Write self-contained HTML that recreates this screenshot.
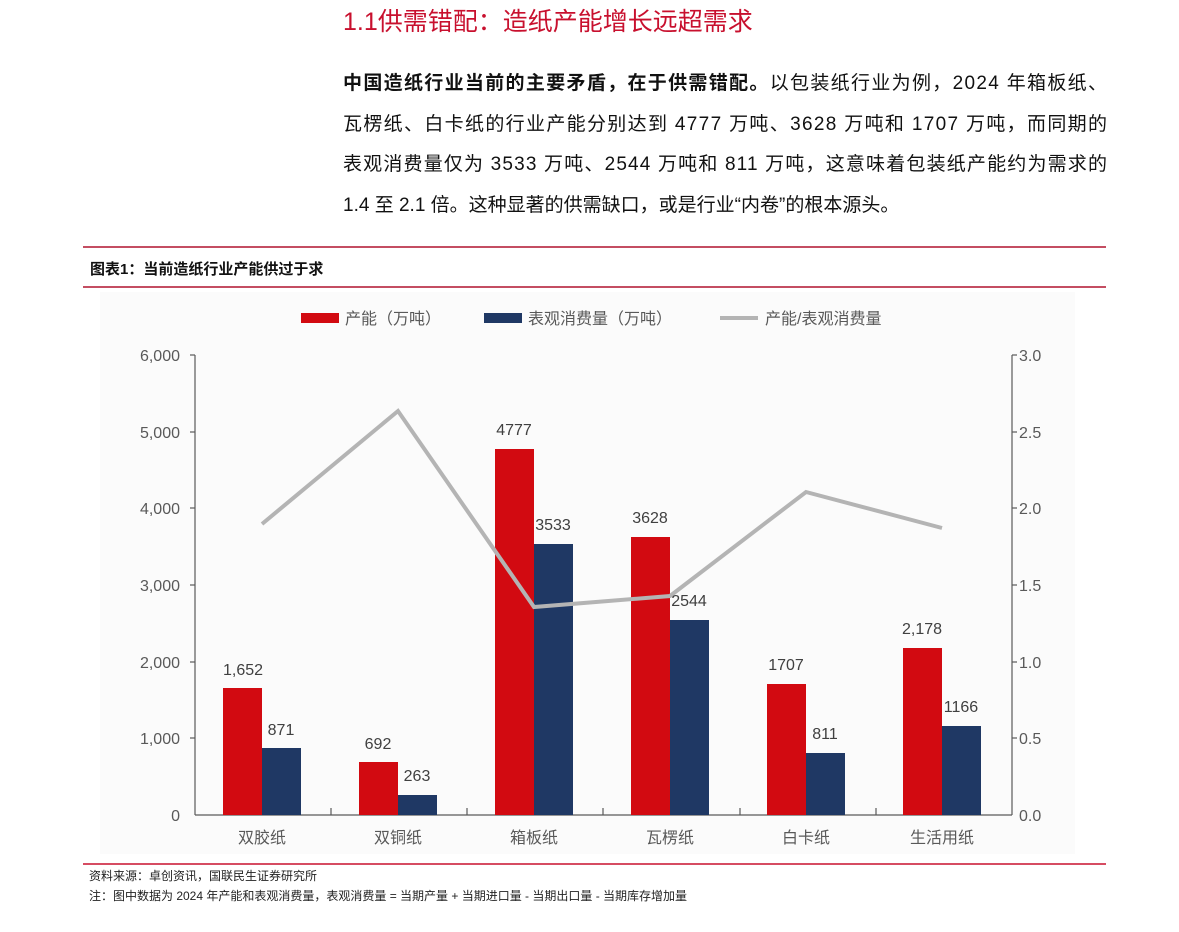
<!DOCTYPE html>
<html><head><meta charset="utf-8"><style>
body{margin:0;background:#fff;width:1179px;height:927px;overflow:hidden;font-family:"Liberation Sans","Noto Sans CJK SC",sans-serif;}
</style></head><body>
<svg width="1179" height="927" xmlns="http://www.w3.org/2000/svg" font-family="Liberation Sans, Noto Sans CJK SC, sans-serif">
<text x="343" y="30" font-size="25" fill="#c8102e">1.1供需错配：造纸产能增长远超需求</text>
<g font-size="19" fill="#111">
<text x="343" y="89" textLength="764"><tspan font-weight="bold">中国造纸行业当前的主要矛盾，在于供需错配。</tspan>以包装纸行业为例，2024 年箱板纸、</text>
<text x="343" y="130" textLength="764">瓦楞纸、白卡纸的行业产能分别达到 4777 万吨、3628 万吨和 1707 万吨，而同期的</text>
<text x="343" y="170" textLength="764">表观消费量仅为 3533 万吨、2544 万吨和 811 万吨，这意味着包装纸产能约为需求的</text>
<text x="343" y="211">1.4 至 2.1 倍。这种显著的供需缺口，或是行业“内卷”的根本源头。</text>
</g>
<line x1="83" y1="247" x2="1106" y2="247" stroke="#b0132f" stroke-width="1.5"/>
<text x="90" y="274" font-size="15" font-weight="bold" fill="#111">图表1：当前造纸行业产能供过于求</text>
<line x1="83" y1="287" x2="1106" y2="287" stroke="#b0132f" stroke-width="1.5"/>
<rect x="100" y="292" width="975" height="562" fill="#fbfbfb"/>
<rect x="301" y="313" width="38" height="10" fill="#d20a11"/>
<text x="345" y="324" font-size="16" fill="#595959">产能（万吨）</text>
<rect x="484" y="313" width="38" height="10" fill="#1f3864"/>
<text x="528" y="324" font-size="16" fill="#595959">表观消费量（万吨）</text>
<line x1="720" y1="318" x2="758" y2="318" stroke="#b4b4b4" stroke-width="4"/>
<text x="765" y="324" font-size="16" fill="#595959">产能/表观消费量</text>
<g stroke="#595959" stroke-width="1.2">
<line x1="195" y1="355" x2="195" y2="815"/>
<line x1="1012" y1="355" x2="1012" y2="815"/>
<line x1="195" y1="815" x2="1012" y2="815"/>
<line x1="190" y1="355" x2="195" y2="355"/><line x1="190" y1="432" x2="195" y2="432"/><line x1="190" y1="508" x2="195" y2="508"/><line x1="190" y1="585" x2="195" y2="585"/><line x1="190" y1="662" x2="195" y2="662"/><line x1="190" y1="738" x2="195" y2="738"/>
<line x1="1012" y1="355" x2="1017" y2="355"/><line x1="1012" y1="432" x2="1017" y2="432"/><line x1="1012" y1="508" x2="1017" y2="508"/><line x1="1012" y1="585" x2="1017" y2="585"/><line x1="1012" y1="662" x2="1017" y2="662"/><line x1="1012" y1="738" x2="1017" y2="738"/>
<line x1="331" y1="808" x2="331" y2="815"/><line x1="467" y1="808" x2="467" y2="815"/><line x1="603" y1="808" x2="603" y2="815"/><line x1="740" y1="808" x2="740" y2="815"/><line x1="876" y1="808" x2="876" y2="815"/>
</g>
<g font-size="16" fill="#595959" text-anchor="end">
<text x="180" y="361">6,000</text><text x="180" y="438">5,000</text><text x="180" y="514">4,000</text><text x="180" y="591">3,000</text><text x="180" y="668">2,000</text><text x="180" y="744">1,000</text><text x="180" y="821">0</text>
</g>
<g font-size="16" fill="#595959">
<text x="1019" y="361">3.0</text><text x="1019" y="438">2.5</text><text x="1019" y="514">2.0</text><text x="1019" y="591">1.5</text><text x="1019" y="668">1.0</text><text x="1019" y="744">0.5</text><text x="1019" y="821">0.0</text>
</g>
<g fill="#d20a11">
<rect x="223" y="688" width="39" height="127"/><rect x="359" y="762" width="39" height="53"/><rect x="495" y="449" width="39" height="366"/><rect x="631" y="537" width="39" height="278"/><rect x="767" y="684" width="39" height="131"/><rect x="903" y="648" width="39" height="167"/>
</g>
<g fill="#1f3864">
<rect x="262" y="748" width="39" height="67"/><rect x="398" y="795" width="39" height="20"/><rect x="534" y="544" width="39" height="271"/><rect x="670" y="620" width="39" height="195"/><rect x="806" y="753" width="39" height="62"/><rect x="942" y="726" width="39" height="89"/>
</g>
<polyline points="262,524 398,411 534,607 670,596 806,492 942,528" fill="none" stroke="#b4b4b4" stroke-width="4"/>
<g font-size="16" fill="#404040" text-anchor="middle">
<text x="243" y="675">1,652</text><text x="281" y="735">871</text>
<text x="378" y="749">692</text><text x="417" y="781">263</text>
<text x="514" y="435">4777</text><text x="553" y="530">3533</text>
<text x="650" y="523">3628</text><text x="689" y="606">2544</text>
<text x="786" y="670">1707</text><text x="825" y="739">811</text>
<text x="922" y="634">2,178</text><text x="961" y="712">1166</text>
</g>
<g font-size="16" fill="#595959" text-anchor="middle">
<text x="262" y="843">双胶纸</text><text x="398" y="843">双铜纸</text><text x="534" y="843">箱板纸</text><text x="670" y="843">瓦楞纸</text><text x="806" y="843">白卡纸</text><text x="942" y="843">生活用纸</text>
</g>
<line x1="83" y1="864" x2="1106" y2="864" stroke="#c8102e" stroke-width="1.5"/>
<text x="89" y="880" font-size="12" fill="#222">资料来源：卓创资讯，国联民生证券研究所</text>
<text x="89" y="900" font-size="12" fill="#222">注：图中数据为 2024 年产能和表观消费量，表观消费量 = 当期产量 + 当期进口量 - 当期出口量 - 当期库存增加量</text>
</svg>
</body></html>
